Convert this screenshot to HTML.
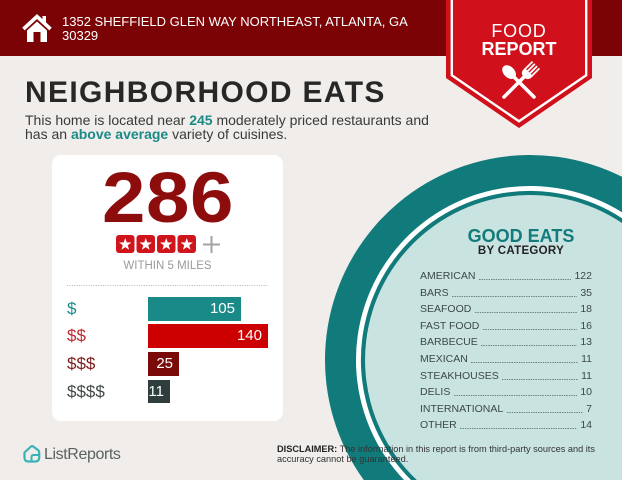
<!DOCTYPE html>
<html>
<head>
<meta charset="utf-8">
<style>
  html,body{margin:0;padding:0;width:622px;height:480px;overflow:hidden;}
  #root{position:relative;width:622px;height:480px;overflow:hidden;background:#f0edea;font-family:"Liberation Sans",Arial,sans-serif;}
  .abs{position:absolute;white-space:nowrap;}
  .row{display:flex;align-items:flex-end;height:16.6px;line-height:16.6px;font-size:10.5px;color:#3c4848;}
  .row .lead{flex:1;height:1px;margin:0 3px 4.6px 3.5px;background-image:linear-gradient(to right,#6f8080 50%,transparent 50%);background-size:2.4px 1px;background-repeat:repeat-x;}
  .lbl{position:absolute;left:67px;font-size:17px;line-height:23.5px;height:23.5px;}
  .bar{position:absolute;left:148px;height:23.5px;line-height:23.5px;font-size:15px;color:#fff;text-align:right;box-sizing:border-box;padding-right:6px;}
</style>
</head>
<body>
<div id="root">
<svg width="622" height="480" style="position:absolute;left:0;top:0">
  <!-- big circle (clipped to frame) -->
  <path d="M363.8,480 A205,205 0 0 1 622,176.8 L622,480 Z" fill="#117a7b"/>
  <path d="M404,480 A174,174 0 0 1 622,212.3 L622,480 Z" fill="#ffffff"/>
  <path d="M411,480 A169,169 0 0 1 622,218.2 L622,480 Z" fill="#117a7b"/>
  <path d="M416.8,480 A165,165 0 0 1 622,223 L622,480 Z" fill="#c9e3e1"/>
  <!-- header band -->
  <rect x="0" y="0" width="622" height="56" fill="#7c0305"/>
  <!-- house icon -->
  <polyline points="23.5,29 37,16.5 50.5,29" fill="none" stroke="#fff" stroke-width="3.6" stroke-linejoin="miter"/>
  <rect x="42.5" y="16" width="3.5" height="7" fill="#fff"/>
  <polygon points="27,30.5 37,21.5 47,30.5 47,42 27,42" fill="#fff"/>
  <rect x="33.5" y="32" width="7" height="10" fill="#7c0305"/>
  <!-- ribbon -->
  <polygon points="446,0 592,0 592,78 519,128 446,78" fill="#d0101a"/>
  <polyline points="451.8,0 451.8,75.2 519,121.3 586.2,75.2 586.2,0" fill="none" stroke="#fff" stroke-width="2.4" stroke-linejoin="miter"/>
  <!-- utensils -->
  <g transform="translate(519,82)" fill="#fff">
    <g transform="rotate(-45)">
      <ellipse cx="0" cy="-14" rx="5.5" ry="8"/>
      <rect x="-1.8" y="-8" width="3.6" height="31" rx="1.8"/>
    </g>
    <g transform="rotate(45)">
      <rect x="-5.7" y="-24" width="1.8" height="11"/>
      <rect x="-2.5" y="-24" width="1.8" height="11"/>
      <rect x="0.7" y="-24" width="1.8" height="11"/>
      <rect x="3.9" y="-24" width="1.8" height="11"/>
      <path d="M-5.7,-14 L5.7,-14 L5.7,-12 Q5.7,-8 1.8,-7 L-1.8,-7 Q-5.7,-8 -5.7,-12 Z"/>
      <rect x="-1.8" y="-8" width="3.6" height="31" rx="1.8"/>
    </g>
  </g>
  <!-- card -->
  <rect x="52" y="155" width="231" height="266" rx="9" fill="#ffffff"/>
  <!-- stars -->
  <g fill="#d0141c">
    <rect x="116" y="235" width="18.5" height="18" rx="3"/>
    <rect x="136.5" y="235" width="18.5" height="18" rx="3"/>
    <rect x="157" y="235" width="18.5" height="18" rx="3"/>
    <rect x="177.5" y="235" width="18.5" height="18" rx="3"/>
  </g>
  <g fill="#fff">
    <polygon transform="translate(125.25,244.5)" points="0,-6.5 1.528,-2.103 6.182,-2.009 2.473,0.803 3.821,5.259 0,2.6 -3.821,5.259 -2.473,0.803 -6.182,-2.009 -1.528,-2.103"/>
    <polygon transform="translate(145.75,244.5)" points="0,-6.5 1.528,-2.103 6.182,-2.009 2.473,0.803 3.821,5.259 0,2.6 -3.821,5.259 -2.473,0.803 -6.182,-2.009 -1.528,-2.103"/>
    <polygon transform="translate(166.25,244.5)" points="0,-6.5 1.528,-2.103 6.182,-2.009 2.473,0.803 3.821,5.259 0,2.6 -3.821,5.259 -2.473,0.803 -6.182,-2.009 -1.528,-2.103"/>
    <polygon transform="translate(186.75,244.5)" points="0,-6.5 1.528,-2.103 6.182,-2.009 2.473,0.803 3.821,5.259 0,2.6 -3.821,5.259 -2.473,0.803 -6.182,-2.009 -1.528,-2.103"/>
  </g>
  <g stroke="#a3a3a3" stroke-width="2">
    <line x1="203" y1="244.5" x2="220" y2="244.5"/>
    <line x1="211.5" y1="236" x2="211.5" y2="253"/>
  </g>
  <!-- dotted separator -->
  <line x1="67" y1="285.5" x2="268" y2="285.5" stroke="#b5b5b5" stroke-width="1" stroke-dasharray="1 1.4"/>
  <!-- logo icon -->
  <path d="M24.5,452.5 L31,446.5 Q32,445.8 33,446.4 L38.2,450.2 Q39.2,451 39.2,452.3 L39.2,457.5 Q39.2,461.5 35.2,461.5 L28.5,461.5 Q24.5,461.5 24.5,457.5 Z" fill="none" stroke="#39b3b5" stroke-width="2.2" stroke-linejoin="round"/>
  <path d="M31.5,461.5 L31.5,457 Q31.5,455 33.5,455 L39,455" fill="none" stroke="#39b3b5" stroke-width="2" stroke-linejoin="round"/>
</svg>

<!-- header text -->
<div class="abs" style="left:62px;top:15.3px;font-size:13px;line-height:14px;color:#fff;">1352 SHEFFIELD GLEN WAY NORTHEAST, ATLANTA, GA<br>30329</div>
<div class="abs" style="left:446px;width:146px;text-align:center;top:22px;font-size:18px;line-height:18px;color:#fff;letter-spacing:0.8px;">FOOD</div>
<div class="abs" style="left:446px;width:146px;text-align:center;top:39.5px;font-size:18px;line-height:18px;color:#fff;font-weight:bold;">REPORT</div>

<!-- title -->
<div class="abs" style="left:25px;top:78px;font-size:30px;line-height:30px;font-weight:bold;color:#272727;letter-spacing:1.35px;">NEIGHBORHOOD EATS</div>
<div class="abs" style="left:25px;top:114.4px;font-size:14px;line-height:13.8px;color:#3a3a3a;">This home is located near <b style="color:#1b8a86">245</b> moderately priced restaurants and<br>has an <b style="color:#1b8a86">above average</b> variety of cuisines.</div>

<!-- card content -->
<div class="abs" style="left:102px;top:163px;font-size:71px;line-height:71px;font-weight:bold;color:#8d0c0c;letter-spacing:0.5px;transform:scaleX(1.1);transform-origin:0 0;">286</div>
<div class="abs" style="left:52px;width:231px;text-align:center;top:261.3px;font-size:11.5px;line-height:11.5px;color:#9a9a9a;">WITHIN 5 MILES</div>

<div class="lbl" style="top:297px;color:#1e8a88;">$</div>
<div class="lbl" style="top:324px;color:#c0282d;">$$</div>
<div class="lbl" style="top:352px;color:#7d1a1a;">$$$</div>
<div class="lbl" style="top:379.5px;color:#404848;">$$$$</div>

<div class="bar" style="top:297px;width:93px;background:#1a8a88;">105</div>
<div class="bar" style="top:324px;width:120px;background:#cc0000;">140</div>
<div class="bar" style="top:352px;width:31px;background:#7a0a0a;">25</div>
<div class="bar" style="top:379.5px;width:22px;background:#2f3d3d;">11</div>

<!-- footer -->
<div class="abs" style="left:44px;top:446.5px;font-size:16px;line-height:16px;color:#5a6262;letter-spacing:-0.4px;">ListReports</div>
<div class="abs" style="left:277px;top:445px;font-size:9.2px;line-height:9.5px;color:#333;"><b style="color:#222">DISCLAIMER:</b> The information in this report is from third-party sources and its<br>accuracy cannot be guaranteed.</div>

<!-- good eats -->
<div class="abs" style="left:421px;width:200px;text-align:center;top:226.7px;font-size:18px;line-height:18px;font-weight:bold;color:#137b7b;">GOOD EATS</div>
<div class="abs" style="left:421px;width:200px;text-align:center;top:245.8px;font-size:11.5px;line-height:11.5px;font-weight:bold;color:#222;letter-spacing:0.3px;">BY CATEGORY</div>

<div class="abs" style="left:420px;top:268px;width:172px;">
  <div class="row"><span>AMERICAN</span><span class="lead"></span><span>122</span></div>
  <div class="row"><span>BARS</span><span class="lead"></span><span>35</span></div>
  <div class="row"><span>SEAFOOD</span><span class="lead"></span><span>18</span></div>
  <div class="row"><span>FAST FOOD</span><span class="lead"></span><span>16</span></div>
  <div class="row"><span>BARBECUE</span><span class="lead"></span><span>13</span></div>
  <div class="row"><span>MEXICAN</span><span class="lead"></span><span>11</span></div>
  <div class="row"><span>STEAKHOUSES</span><span class="lead"></span><span>11</span></div>
  <div class="row"><span>DELIS</span><span class="lead"></span><span>10</span></div>
  <div class="row"><span>INTERNATIONAL</span><span class="lead"></span><span>7</span></div>
  <div class="row"><span>OTHER</span><span class="lead"></span><span>14</span></div>
</div>
</div>
</body>
</html>
